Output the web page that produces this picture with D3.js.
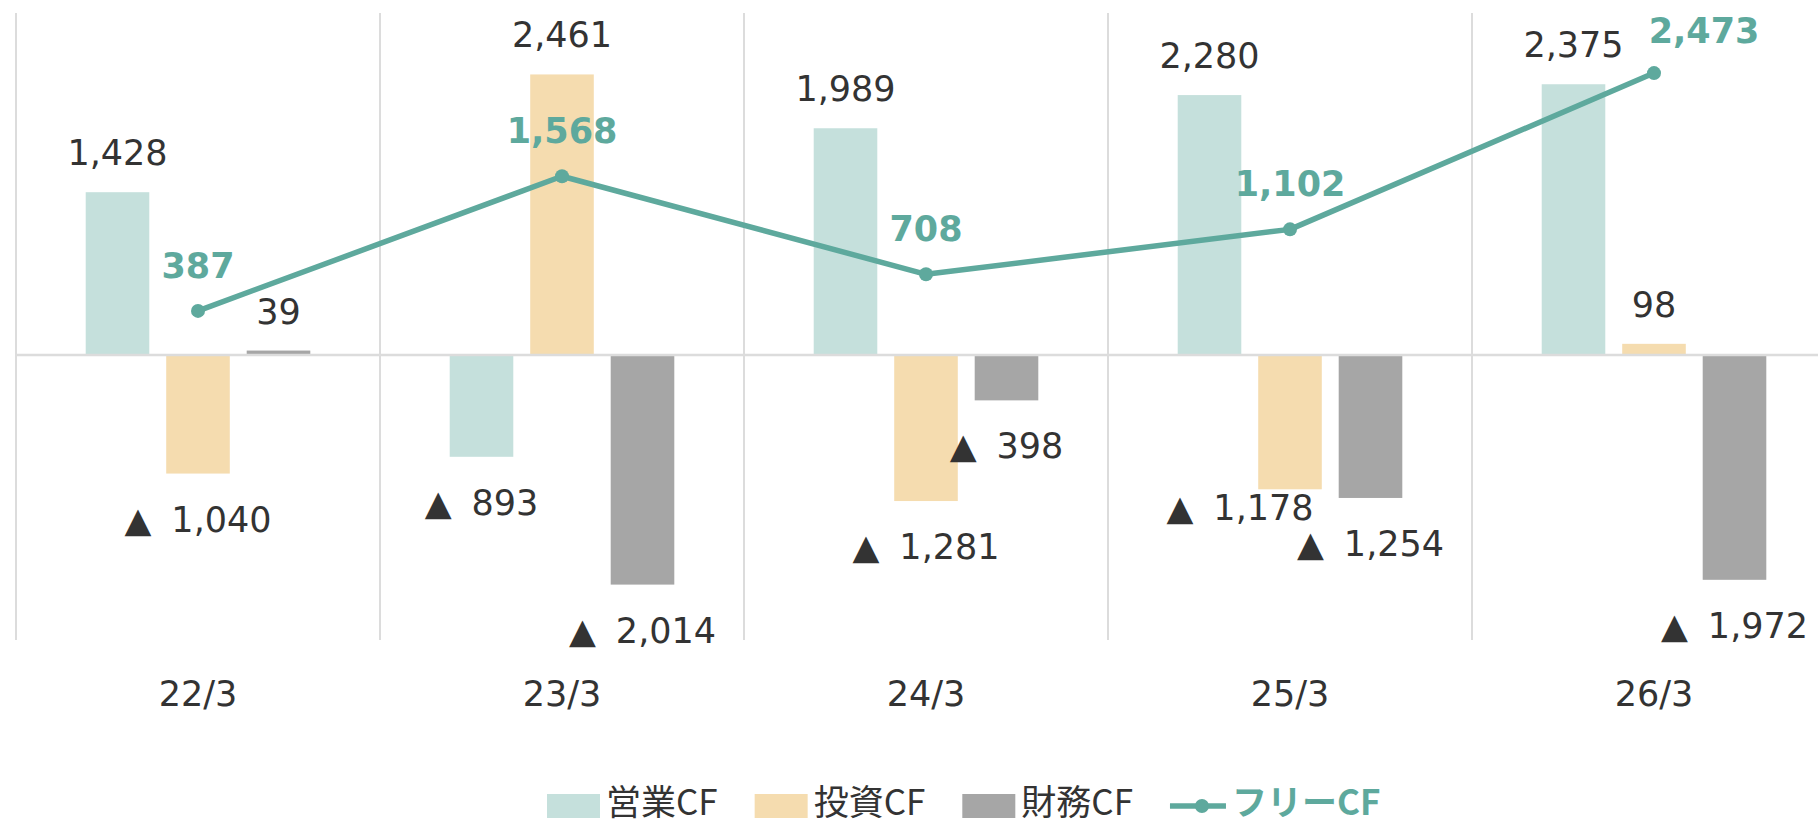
<!DOCTYPE html>
<html>
<head>
<meta charset="utf-8">
<script src="https://cdn.jsdelivr.net/npm/d3@7"></script>
<style>
body{margin:0;background:#fff;}
svg text{font-family:"DejaVu Sans",Verdana,sans-serif;}
</style>
</head>
<body>
<svg id="chart" width="1818" height="824"></svg>
<script>
// cash flow by fiscal year (bars) with free CF line
const categories = ['22/3', '23/3', '24/3', '25/3', '26/3'];
const seriesNames = ['営業CF', '投資CF', '財務CF'];
const operatingCF = [1428, -893, 1989, 2280, 2375];
const investingCF = [-1040, 2461, -1281, -1178, 98];
const financingCF = [39, -2014, -398, -1254, -1972];
const freeName = 'フリーCF';
const freeCF = [387, 1568, 708, 1102, 2473];

const colors = ['#c5e0dc', '#f5dcaf', '#a6a6a6'];
const lineColor = '#5ea99d';
const textColor = '#333333';

const svg = d3.select('#chart');

const xScale = d3.scaleBand()
    .domain(categories)
    .range([16, 16 + 364 * categories.length])
    .padding(0);
const inner = d3.scaleBand()
    .domain(seriesNames)
    .range([-120.75, 120.75])
    .paddingInner(0.21)
    .paddingOuter(0.105);
const yScale = d3.scaleLinear()
    .domain([-2500, 3000])
    .range([640, 13]);

const cx = c => xScale(c) + xScale.bandwidth() / 2;
const fmt = d3.format(',');
const labelText = v => v < 0 ? fmt(-v) : fmt(v);

// flatten bar data
let bars = [];
[operatingCF, investingCF, financingCF].forEach((arr, s) => {
    arr.forEach((v, i) => {
        bars.push({cat: categories[i], series: seriesNames[s], s: s, i: i, value: v});
    });
});

// vertical gridlines (category separators)
const bounds = categories.map(c => xScale(c)).concat([xScale.range()[1]]);
svg.append('g')
    .selectAll('line')
    .data(bounds)
    .join('line')
    .attr('x1', d => d).attr('x2', d => d)
    .attr('y1', yScale(3000)).attr('y2', yScale(-2500))
    .attr('stroke', '#dcdcdc')
    .attr('stroke-width', 2);

// bars
svg.append('g')
    .selectAll('rect')
    .data(bars)
    .join('rect')
    .attr('x', d => cx(d.cat) + inner(d.series))
    .attr('width', inner.bandwidth())
    .attr('y', d => yScale(Math.max(0, d.value)))
    .attr('height', d => Math.abs(yScale(d.value) - yScale(0)))
    .attr('fill', d => colors[d.s]);

// zero line
svg.append('line')
    .attr('x1', xScale.range()[0]).attr('x2', 1818)
    .attr('y1', yScale(0)).attr('y2', yScale(0))
    .attr('stroke', '#dcdcdc')
    .attr('stroke-width', 2.5);

// label nudges where the original moved them by hand
function nudge(d) {
    if (d.s === 1 && d.i === 3) return [-50, -27];
    return [0, 0];
}

// bar labels
const barLabels = svg.append('g')
    .selectAll('text')
    .data(bars)
    .join('text')
    .attr('text-anchor', 'middle')
    .attr('font-size', 35)
    .attr('fill', textColor)
    .attr('x', d => cx(d.cat) + inner(d.series) + inner.bandwidth() / 2 + nudge(d)[0])
    .attr('y', d => (d.value < 0 ? yScale(d.value) + 58 : yScale(d.value) - 27) + nudge(d)[1]);
barLabels.each(function(d) {
    const t = d3.select(this);
    if (d.value < 0) {
        t.append('tspan').text('▲');
        t.append('tspan').attr('dx', 20).text(labelText(d.value));
    } else {
        t.text(labelText(d.value));
    }
});

// free CF line
const line = d3.line()
    .x((d, i) => cx(categories[i]))
    .y(d => yScale(d));
svg.append('path')
    .datum(freeCF)
    .attr('d', line)
    .attr('fill', 'none')
    .attr('stroke', lineColor)
    .attr('stroke-width', 5.5)
    .attr('stroke-linejoin', 'round');
svg.append('g')
    .selectAll('circle')
    .data(freeCF)
    .join('circle')
    .attr('cx', (d, i) => cx(categories[i]))
    .attr('cy', d => yScale(d))
    .attr('r', 7)
    .attr('fill', lineColor);
svg.append('g')
    .selectAll('text')
    .data(freeCF)
    .join('text')
    .attr('text-anchor', 'middle')
    .attr('font-size', 35)
    .attr('font-weight', 'bold')
    .attr('fill', lineColor)
    .attr('x', (d, i) => cx(categories[i]) + (i === 4 ? 50 : 0))
    .attr('y', (d, i) => yScale(d) - (i === 4 ? 30 : 33))
    .text(d => fmt(d));

// x axis labels
const xAxis = svg.append('g')
    .attr('transform', `translate(0, ${yScale(-2500)})`)
    .call(d3.axisBottom(xScale).tickSize(0));
xAxis.select('.domain').remove();
xAxis.selectAll('text')
    .attr('y', 66)
    .attr('dy', 0)
    .attr('font-size', 35)
    .attr('font-family', '"DejaVu Sans", Verdana, sans-serif')
    .attr('fill', textColor);

// legend
const legend = svg.append('g').attr('transform', 'translate(547, 0)');
let lx = 0;
const legendItems = seriesNames.map((n, s) => ({name: n, type: 'bar', color: colors[s]}))
    .concat([{name: freeName, type: 'line', color: lineColor}]);
legendItems.forEach(item => {
    if (item.type === 'bar') {
        legend.append('rect')
            .attr('x', lx).attr('y', 794)
            .attr('width', 53).attr('height', 24)
            .attr('fill', item.color);
        lx += 59;
    } else {
        legend.append('line')
            .attr('x1', lx).attr('x2', lx + 56)
            .attr('y1', 806).attr('y2', 806)
            .attr('stroke', item.color).attr('stroke-width', 5.5);
        legend.append('circle')
            .attr('cx', lx + 32).attr('cy', 806).attr('r', 7)
            .attr('fill', item.color);
        lx += 62;
    }
    const t = legend.append('text')
        .attr('x', lx).attr('y', 815)
        .attr('font-size', 35)
        .style('font-family', '"Noto Sans CJK JP", sans-serif')
        .attr('fill', item.type === 'bar' ? textColor : item.color)
        .attr('font-weight', item.type === 'bar' ? 'normal' : 'bold')
        .text(item.name);
    lx += t.node().getComputedTextLength() + 37;
});
</script>
</body>
</html>
